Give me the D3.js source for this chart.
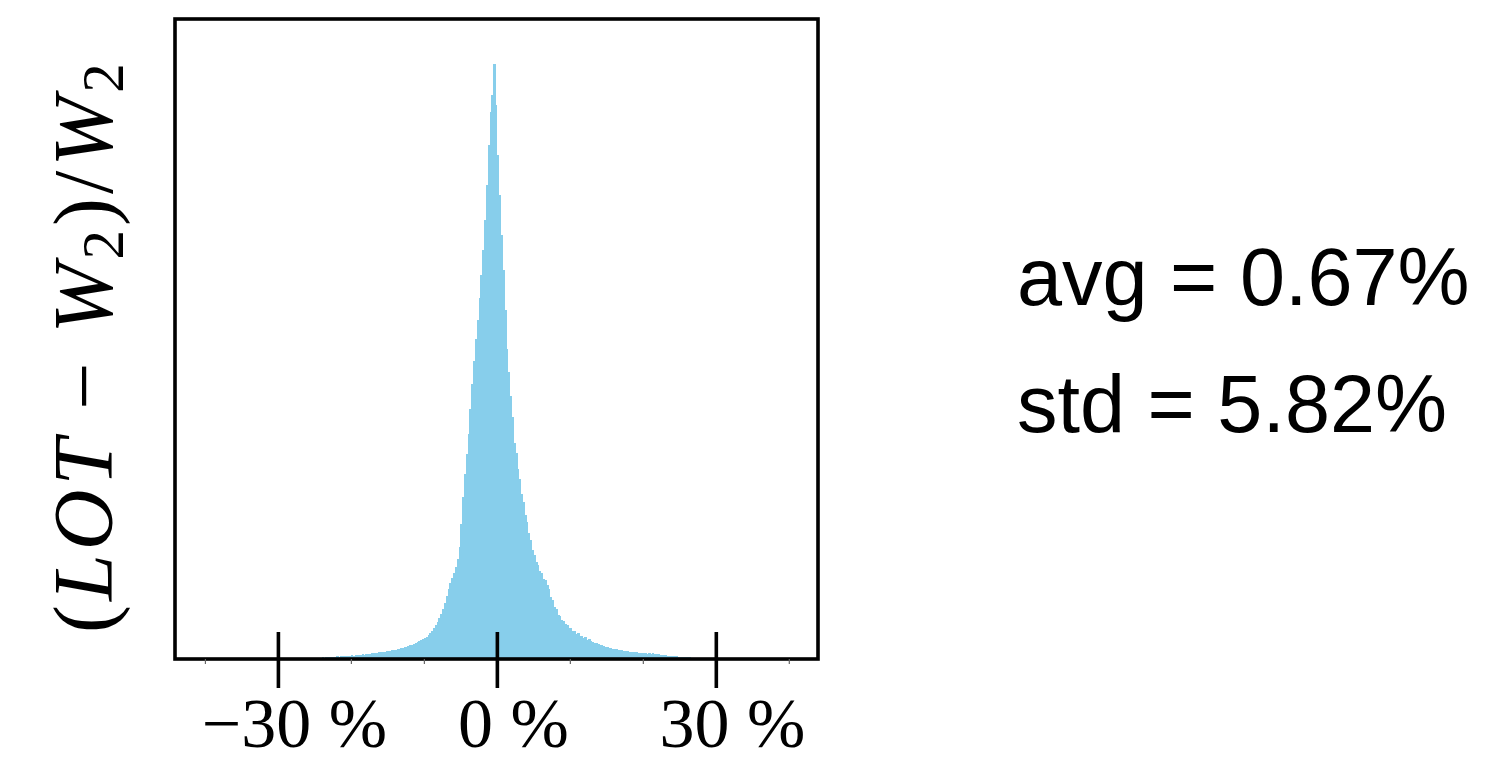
<!DOCTYPE html>
<html>
<head>
<meta charset="utf-8">
<script src="https://cdn.jsdelivr.net/npm/d3@7"></script>
<style>
  html, body { margin: 0; padding: 0; background: #fff; }
  svg { display: block; }
</style>
</head>
<body>
<svg id="chart" width="1496" height="764"></svg>
<script>
// ---- data ----
const binStart = -26;      // first bin edge (%)
const binWidth = 0.25;     // bin width (%)
const counts = [
  // -26 .. -13
  1,1,1,1.5,1,1.5,1.5,1.5,
  2,1.5,2,2,2.5,2,2.5,2.5,
  3,2.5,3,3,3.5,3,3.5,3.5,
  4,3.5,4,4.5,4,4.5,5,4.5,
  5,5.5,5,6,6,6.5,6,7,
  7,7.5,7,8,8.5,8,9,9,
  9.5,10,10.5,11,
  // -13 .. 0
  11.5,12,12.5,13,14,14.5,15.5,16,17,18,
  19,20,21,22,24,26,28,31,34,37,
  41,45,50,56,63,70,76,81,86,92,
  100,112,135,162,185,205,225,250,275,298,
  320,340,362,385,410,440,475,515,548,565,
  596,555,
  // 0 .. 13
  505,465,425,390,350,310,287,263,242,216,
  206,190,180,165,157,144,137,126,119,109,
  104,97,94,88,86,80,79,74,70,62,
  59,52,50,44,43,39,38,35,34,31,
  31,28,28,25,26,23,23,21,22,19,
  20,18,
  // 13 .. 30
  17,16.5,16,15,14.5,14,13,12.5,
  12,11.5,11,10.5,10,10,9.5,9,
  9,8.5,8,8,7.5,7.5,7,7,
  7,6.5,6.5,6,6,6,5.5,6,
  5.5,6,5,5.5,5,4.5,4.5,4,
  4,3.5,3.5,3.5,3,3,3,2.5,
  2.5,2.5,2,2,2,2,1.5,1.5,
  1.5,1.5,1,1.5,1,1,1,1,
  1,0.5,1,0.5
];
const xDomain = [-44.1, 44];
const yDomain = [0, 641];
const majorTicks = [-30, 0, 30];
const minorTicks = [-40, -20, -10, 10, 20, 40];
const tickLabels = ["\u221230 %", "0 %", "30 %"];
const stats = ["avg = 0.67%", "std = 5.82%"];

// ---- layout ----
const svg = d3.select("#chart");
const plot = { left: 175, right: 818, top: 19, bottom: 659 };

const x = d3.scaleLinear().domain(xDomain).range([plot.left, plot.right]);
const y = d3.scaleLinear().domain(yDomain).range([plot.bottom, plot.top]);

const bins = counts.map((c, i) => ({
  x0: binStart + i * binWidth,
  x1: binStart + (i + 1) * binWidth,
  c
}));

svg.append("g")
  .attr("shape-rendering", "crispEdges")
  .selectAll("rect")
  .data(bins)
  .join("rect")
  .attr("x", d => x(d.x0))
  .attr("width", d => x(d.x1) - x(d.x0) + 0.6)
  .attr("y", d => y(d.c))
  .attr("height", d => y(0) - y(d.c))
  .attr("fill", "#87ceeb");

// frame
svg.append("rect")
  .attr("x", plot.left).attr("y", plot.top)
  .attr("width", plot.right - plot.left)
  .attr("height", plot.bottom - plot.top)
  .attr("fill", "none")
  .style("stroke", "#000")
  .style("stroke-width", "3.6px");

// minor ticks
const minorAxis = d3.axisBottom(x).tickValues(minorTicks).tickSize(5).tickFormat("");
const gMinor = svg.append("g").attr("transform", `translate(0,${plot.bottom})`).call(minorAxis);
gMinor.select(".domain").remove();
gMinor.selectAll("line").style("stroke", "#666").style("stroke-width", "1.2px");

// major ticks (crossing the axis)
const majorAxis = d3.axisBottom(x).tickValues(majorTicks).tickSizeInner(29).tickSizeOuter(0)
  .tickFormat((d, i) => tickLabels[i]);
const gMajor = svg.append("g").attr("transform", `translate(0,${plot.bottom})`).call(majorAxis);
gMajor.select(".domain").remove();
gMajor.selectAll(".tick line")
  .attr("y1", -27).attr("y2", 29)
  .style("stroke", "#000").style("stroke-width", "3.6px");
gMajor.selectAll(".tick text")
  .attr("y", 88).attr("dy", 0)
  .attr("dx", 16)
  .attr("fill", "#000")
  .style("font-family", "'Liberation Serif', 'Times New Roman', serif")
  .style("font-size", "70px");

// y label
const ylab = svg.append("text")
  .attr("transform", `translate(112,346) rotate(-90)`)
  .attr("text-anchor", "middle")
  .style("font-family", "'Liberation Serif', 'Times New Roman', serif")
  .style("font-size", "84px")
  .style("letter-spacing", "4px")
  .attr("fill", "#000");
ylab.append("tspan").text("(");
ylab.append("tspan").style("font-style", "italic").text("LOT");
ylab.append("tspan").text(" \u2212 ");
ylab.append("tspan").style("font-style", "italic").text("W");
ylab.append("tspan").attr("baseline-shift", "-18%").style("font-size", "59px").text("2");
ylab.append("tspan").text(")/");
ylab.append("tspan").style("font-style", "italic").text("W");
ylab.append("tspan").attr("baseline-shift", "-18%").style("font-size", "59px").text("2");

// stats text
svg.append("g")
  .selectAll("text")
  .data(stats)
  .join("text")
  .attr("x", 1017)
  .attr("y", (d, i) => 305 + i * 127)
  .style("font-family", "'Liberation Sans', Arial, Helvetica, sans-serif")
  .style("font-size", "81px")
  .attr("fill", "#000")
  .text(d => d);
</script>
</body>
</html>
